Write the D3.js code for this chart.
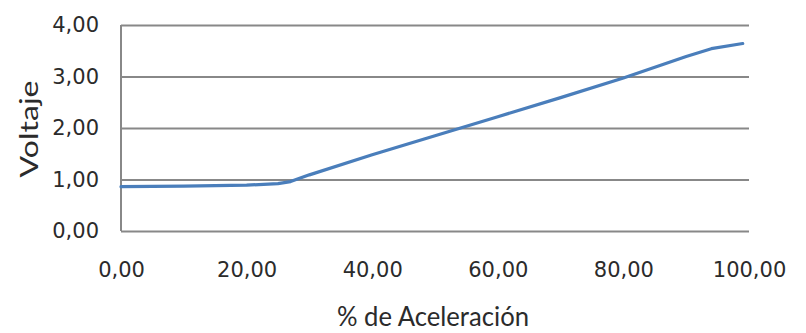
<!DOCTYPE html>
<html>
<head>
<meta charset="utf-8">
<script src="https://cdn.jsdelivr.net/npm/d3@7/dist/d3.min.js"></script>
<style>
  html, body { margin: 0; padding: 0; background: #fff; }
  svg { display: block; }
</style>
</head>
<body>
<svg id="chart" width="806" height="333"></svg>
<script>
// ---- data ----
const acceleration = [0, 10, 20, 25, 27, 30, 40, 50, 60, 70, 80, 90, 94, 99];
const voltage = [0.86, 0.87, 0.89, 0.92, 0.96, 1.09, 1.48, 1.85, 2.22, 2.59, 2.97, 3.39, 3.54, 3.64];
const xTickValues = [0, 20, 40, 60, 80, 100];
const xTickLabels = ["0,00", "20,00", "40,00", "60,00", "80,00", "100,00"];
const yTickValues = [0, 1, 2, 3, 4];
const yTickLabels = ["0,00", "1,00", "2,00", "3,00", "4,00"];
const xTitle = "% de Aceleración";
const yTitle = "Voltaje";

// ---- layout ----
const W = 806, H = 333;
const plot = { left: 121, right: 749, top: 25, bottom: 231 };
const gridColor = "#888888";
const textColor = "#2b2b2b";
const lineColor = "#4a7ebb";

const svg = d3.select("#chart");
const x = d3.scaleLinear().domain([0, 100]).range([plot.left, plot.right]);
const y = d3.scaleLinear().domain([0, 4]).range([plot.bottom, plot.top]);

// gridlines
const grid = svg.append("g")
  .attr("transform", `translate(${plot.left},0)`)
  .call(d3.axisLeft(y).tickValues(yTickValues).tickSize(-(plot.right - plot.left)).tickFormat(""));
grid.select(".domain").remove();
grid.selectAll(".tick line").attr("stroke", gridColor).attr("stroke-width", 2);

// vertical axis line
svg.append("line")
  .attr("x1", plot.left).attr("x2", plot.left)
  .attr("y1", plot.top).attr("y2", plot.bottom)
  .attr("stroke", gridColor).attr("stroke-width", 2);

// y axis labels
const yAxis = svg.append("g")
  .attr("transform", `translate(${plot.left},0)`)
  .call(d3.axisLeft(y).tickValues(yTickValues).tickSize(0).tickPadding(22)
    .tickFormat((d, i) => yTickLabels[i]));
yAxis.select(".domain").remove();
yAxis.selectAll("text")
  .attr("font-family", "DejaVu Sans").attr("font-size", 21).attr("fill", textColor);

// x axis labels
const xAxis = svg.append("g")
  .attr("transform", `translate(0,${plot.bottom})`)
  .call(d3.axisBottom(x).tickValues(xTickValues).tickSize(0).tickPadding(31)
    .tickFormat((d, i) => xTickLabels[i]));
xAxis.select(".domain").remove();
xAxis.selectAll("text")
  .attr("font-family", "DejaVu Sans").attr("font-size", 21).attr("fill", textColor);

// line
const line = d3.line().x((d, i) => x(acceleration[i])).y(d => y(d));
svg.append("path")
  .datum(voltage)
  .attr("d", line)
  .attr("fill", "none")
  .attr("stroke", lineColor)
  .attr("stroke-width", 3.2)
  .attr("stroke-linejoin", "round")
  .attr("stroke-linecap", "round");

// titles
svg.append("text")
  .attr("x", 433).attr("y", 326)
  .attr("text-anchor", "middle")
  .attr("font-family", "Lato").attr("font-size", 26).attr("fill", textColor)
  .attr("textLength", 192).attr("lengthAdjust", "spacingAndGlyphs")
  .text(xTitle);

svg.append("text")
  .attr("transform", "translate(38,129) rotate(-90)")
  .attr("text-anchor", "middle")
  .attr("font-family", "Lato").attr("font-size", 25).attr("fill", textColor)
  .attr("textLength", 97).attr("lengthAdjust", "spacingAndGlyphs")
  .text(yTitle);
</script>
</body>
</html>
